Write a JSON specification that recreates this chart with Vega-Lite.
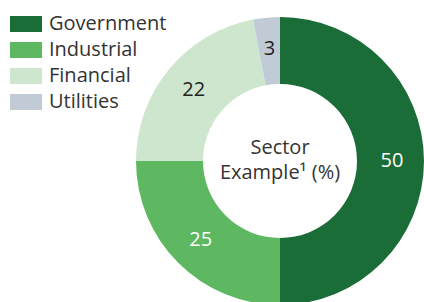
{
  "$schema": "https://vega.github.io/schema/vega-lite/v6.json",
  "autosize": "none",
  "width": 288,
  "height": 288,
  "padding": {"left": 136, "top": 17, "right": 0, "bottom": 0},
  "background": "white",
  "config": {"view": {"stroke": null}, "font": "Open Sans"},
  "data": {
    "values": [
      {"sector": "Government", "value": 50, "idx": 1},
      {"sector": "Industrial", "value": 25, "idx": 2},
      {"sector": "Financial", "value": 22, "idx": 3},
      {"sector": "Utilities", "value": 3, "idx": 4}
    ]
  },
  "encoding": {
    "theta": {"field": "value", "type": "quantitative", "stack": true},
    "order": {"field": "idx", "type": "quantitative"}
  },
  "layer": [
    {
      "mark": {"type": "arc", "innerRadius": 77, "outerRadius": 144},
      "encoding": {
        "color": {
          "field": "sector",
          "type": "nominal",
          "sort": ["Government", "Industrial", "Financial", "Utilities"],
          "scale": {
            "domain": ["Government", "Industrial", "Financial", "Utilities"],
            "range": ["#1b6d37", "#5db861", "#cde6cd", "#c1cbd5"]
          },
          "legend": {
            "title": null,
            "orient": "none",
            "legendX": -126,
            "legendY": -9,
            "padding": 0,
            "symbolType": "M-1,-0.5H1V0.5H-1Z",
            "symbolSize": 1024,
            "symbolStrokeWidth": 0,
            "labelFontSize": 20,
            "labelColor": "#333333",
            "labelOffset": 7,
            "rowPadding": -4.3,
            "labelFont": "Open Sans"
          }
        }
      }
    },
    {
      "mark": {"type": "text", "radius": 112, "fontSize": 20, "font": "Open Sans"},
      "encoding": {
        "text": {"field": "value", "type": "quantitative"},
        "color": {
          "condition": {"test": "datum.value >= 25", "value": "white"},
          "value": "#222222"
        }
      }
    },
    {
      "data": {"values": [{"label": ["Sector", "Example¹ (%)"]}]},
      "mark": {"type": "text", "fontSize": 20, "font": "Open Sans", "color": "#333333", "lineHeight": 25, "baseline": "middle", "dy": -13},
      "encoding": {
        "text": {"field": "label"},
        "theta": null,
        "order": null
      }
    }
  ]
}
